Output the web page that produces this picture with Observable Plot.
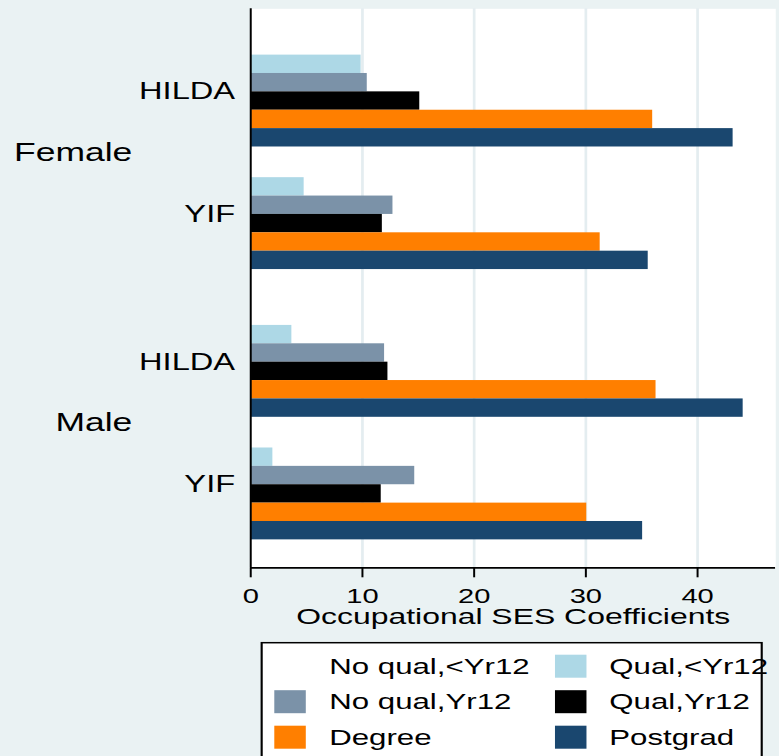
<!DOCTYPE html>
<html><head><meta charset="utf-8">
<script src="https://cdn.jsdelivr.net/npm/d3@7"></script>
<script src="https://cdn.jsdelivr.net/npm/@observablehq/plot@0.6"></script>
<style>
html,body{margin:0;padding:0;background:#eaf2f3;overflow:hidden;width:779px;height:756px;}
#wrap{width:549px;height:756px;transform:scaleX(1.419);transform-origin:0 0;font-family:"Liberation Sans",Arial,sans-serif;}
#wrap svg{display:block;}
</style></head><body><div id="wrap"></div>
<script>
// ---- data ----
const sexes = ["Female", "Male"];
const sources = ["HILDA", "YIF"];
const seriesNames = ["No qual,<Yr12", "Qual,<Yr12", "No qual,Yr12", "Qual,Yr12", "Degree", "Postgrad"];
const seriesColors = ["#ffffff", "#add8e6", "#7b92a8", "#000000", "#ff7f00", "#1a476f"];
// values in group order: Female HILDA, Female YIF, Male HILDA, Male YIF
const noQualLtYr12 = [0, 0, 0, 0];
const qualLtYr12 = [9.9, 4.8, 3.7, 2.0];
const noQualYr12 = [10.45, 12.75, 12.0, 14.7];
const qualYr12 = [15.15, 11.8, 12.3, 11.7];
const degree = [36.0, 31.3, 36.3, 30.1];
const postgrad = [43.2, 35.6, 44.1, 35.1];
const seriesValues = [noQualLtYr12, qualLtYr12, noQualYr12, qualYr12, degree, postgrad];
const xTicks = [0, 10, 20, 30, 40];
const xMax = 47;
const xTitle = "Occupational SES Coefficients";

// ---- layout (in bar-height units) ----
const OUTER = 1.52, INNER = 0.67, SEX_GAP = 2.04, NB = seriesNames.length;
const groups = [];
sexes.forEach((sex, s) => sources.forEach((src, k) => {
  const start = OUTER + s * (2 * NB + INNER + SEX_GAP) + k * (NB + INNER);
  groups.push({sex, source: src, start, yc: start + NB / 2});
}));
const yMax = groups[groups.length - 1].start + NB + OUTER;
const rows = [];
groups.forEach((g, gi) => seriesNames.forEach((name, j) => {
  rows.push({series: name, value: seriesValues[j][gi], y1: g.start + j, y2: g.start + j + 1});
}));
const sexGroups = sexes.map(sex => {
  const gs = groups.filter(g => g.sex === sex);
  return {sex, yc: (gs[0].start + gs[gs.length - 1].start + NB) / 2};
});

const W = 549, H = 636;
const chart = Plot.plot({
  width: W, height: H,
  marginLeft: 176.2, marginRight: 2.8, marginTop: 8.3, marginBottom: H - 567.3,
  style: {background: "transparent", fontFamily: "Liberation Sans, Arial, sans-serif", color: "black", overflow: "visible"},
  x: {domain: [0, xMax]},
  y: {domain: [yMax, 0], axis: null},
  color: {domain: seriesNames, range: seriesColors},
  marks: [
    Plot.frame({fill: "white", stroke: "none"}),
    Plot.ruleX(xTicks.slice(1), {stroke: "#e4edf0", strokeWidth: 1.9}),
    Plot.rectX(rows, {x: "value", y1: "y1", y2: "y2", fill: "series"}),
    Plot.ruleX([0], {stroke: "black", strokeWidth: 1.4}),
    Plot.ruleY([yMax], {stroke: "black", strokeWidth: 1.7}),
    Plot.axisX({ticks: xTicks, tickSize: 10, tickPadding: 11, fontSize: 20.5, strokeWidth: 1.4, label: null}),
    Plot.text(groups, {y: "yc", text: "source", frameAnchor: "left", textAnchor: "end", dx: -11, fontSize: 23, fill: "black"}),
    Plot.text(sexGroups, {y: "yc", text: "sex", frameAnchor: "left", textAnchor: "end", dx: -83.5, fontSize: 25, fill: "black"}),
    Plot.text([xTitle], {text: d => d, frameAnchor: "bottom", lineAnchor: "middle", dy: 49.2, fontSize: 22.5, fill: "black"})
  ]
});
document.getElementById("wrap").appendChild(chart);

// ---- legend (below the chart) ----
const LH = 756 - H;
const leg = d3.select("#wrap").append("svg").attr("width", W).attr("height", LH)
  .style("font-family", "Liberation Sans, Arial, sans-serif");
leg.append("rect").attr("x", 184.4).attr("y", 6.7).attr("width", 352.4).attr("height", 140)
  .attr("fill", "white").attr("stroke", "black").attr("stroke-width", 1.5);
const colX = [193.3, 391.1], textX = [232, 429.4], rowY = [18.7, 54.2, 89.7];
seriesNames.forEach((name, i) => {
  const c = i % 2, r = Math.floor(i / 2);
  leg.append("rect").attr("x", colX[c]).attr("y", rowY[r]).attr("width", 22.2).attr("height", 23)
    .attr("fill", seriesColors[i]);
  leg.append("text").attr("x", textX[c]).attr("y", rowY[r] + 11.5).attr("dy", "0.35em")
    .attr("font-size", 22).attr("fill", "black").text(name);
});
</script></body></html>
